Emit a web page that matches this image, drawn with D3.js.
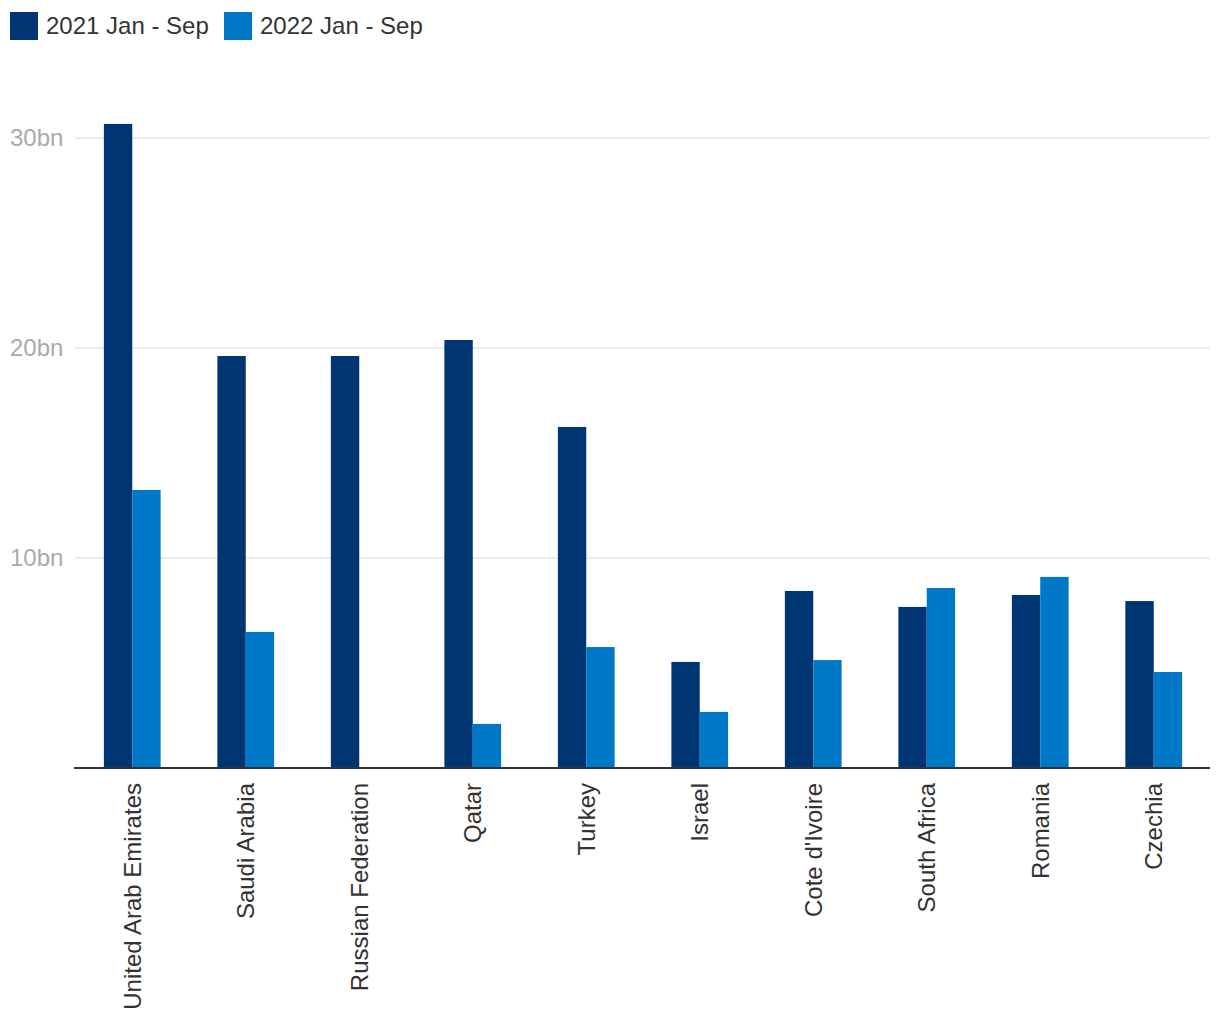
<!DOCTYPE html>
<html><head><meta charset="utf-8">
<script src="https://cdn.jsdelivr.net/npm/d3@7/dist/d3.min.js"></script>
<style>body{margin:0;background:#fff;font-family:"Liberation Sans",Arial,sans-serif}</style>
</head><body><svg id="c" width="1220" height="1020"></svg>
<script>
const categories = ["United Arab Emirates","Saudi Arabia","Russian Federation","Qatar","Turkey","Israel","Cote d'Ivoire","South Africa","Romania","Czechia"];
const seriesNames = ["2021 Jan - Sep","2022 Jan - Sep"];
const values2021 = [30.67,19.62,19.62,20.38,16.24,5.05,8.43,7.67,8.24,7.95];
const values2022 = [13.24,6.48,0,2.1,5.76,2.67,5.14,8.57,9.1,4.57];
const yTicks = [10,20,30];
const colors = ["#003574","#0078c8"];

const svg = d3.select("#c");
const x = d3.scaleBand().domain(categories).range([75.5,1210.5]);
const y = d3.scaleLinear().domain([0,30]).range([768,138]);
const xs = d3.scaleBand().domain([0,1]).range([0,x.bandwidth()/2]);

svg.append("g").selectAll("line").data(yTicks).join("line")
  .attr("x1",75).attr("x2",1210).attr("y1",d=>y(d)).attr("y2",d=>y(d))
  .attr("stroke","#e6e6e6").attr("stroke-width",1.5);
svg.append("g").selectAll("text").data(yTicks).join("text")
  .attr("x",10).attr("y",d=>y(d)).attr("dy","0.35em")
  .attr("fill","#aaaaaa").attr("font-size",24).text(d=>d+"bn");

const series=[values2021,values2022];
series.forEach((vals,si)=>{
  svg.append("g").selectAll("rect").data(categories).join("rect")
    .attr("x",(c)=>x(c)+x.bandwidth()/4+xs(si))
    .attr("width",xs.bandwidth())
    .attr("y",(c,i)=>y(vals[i]))
    .attr("height",(c,i)=>y(0)-y(vals[i]))
    .attr("fill",colors[si]);
});

const ax = svg.append("g").attr("transform","translate(0,768)").call(d3.axisBottom(x).tickSize(0).tickPadding(0));
ax.select(".domain").attr("stroke","#333").attr("stroke-width",2).attr("d","M74,0H1210");
ax.selectAll("text").attr("font-size",24).attr("fill","#333")
  .attr("font-family","'Liberation Sans',Arial,sans-serif")
  .attr("transform","rotate(-90)").attr("text-anchor","end")
  .attr("x",-15).attr("y",0).attr("dy","0.35em");

const lg = svg.append("g");
const lx=[10,224];
seriesNames.forEach((n,i)=>{
  lg.append("rect").attr("x",lx[i]).attr("y",12).attr("width",28).attr("height",28).attr("fill",colors[i]);
  lg.append("text").attr("x",lx[i]+36).attr("y",26).attr("dy","0.35em").attr("font-size",24).attr("fill","#333").text(n);
});
</script></body></html>
